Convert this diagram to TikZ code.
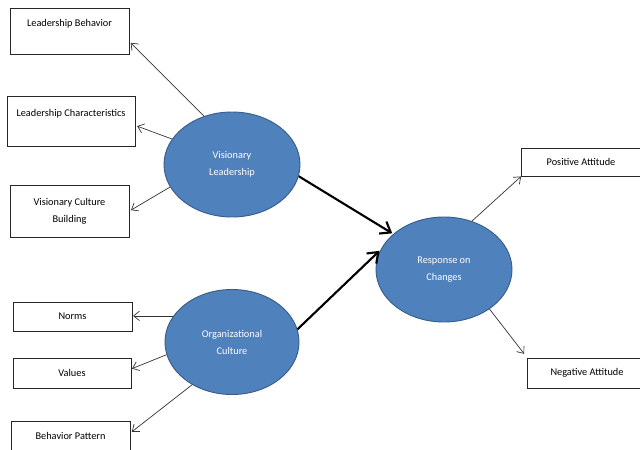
\documentclass[tikz,border=0pt]{standalone}
\usepackage{fontspec}
\setmainfont{Carlito}
\usetikzlibrary{arrows.meta, shapes.geometric}

\definecolor{ovalblue}{HTML}{4F81BD}
\definecolor{ovaledge}{HTML}{385D8A}

\begin{document}
\begin{tikzpicture}[
  x=0.03cm, y=-0.03cm,
  box/.style={draw=black!85, line width=0.8pt, minimum width=3.57cm, align=center, inner sep=0pt, font=\fontsize{8.8}{14.5}\selectfont},
  oval/.style={ellipse, draw=ovaledge, line width=0.8pt, fill=ovalblue, text=white, minimum width=4.08cm, minimum height=3.15cm, inner sep=0pt, align=center, font=\fontsize{8.8}{14.5}\selectfont},
  arrow/.style={-{Straight Barb[length=5pt, width=8pt]}, line width=0.6pt, black!80},
  bigarrow/.style={-{Straight Barb[length=8pt, width=12pt]}, line width=1.8pt}
]
  \useasboundingbox (0,0) rectangle (640,450);

  % Left side boxes
  \node[box, minimum height=1.38cm] (lbeh) at (69.5,31) {Leadership Behavior\\ \mbox{}};
  \node[box, minimum width=3.84cm, minimum height=1.5cm] (lchar) at (71,121) {Leadership Characteristics\\ \mbox{}};
  \node[box, minimum height=1.56cm] (vcb) at (69.5,211) {Visionary Culture\\Building};

  \node[box, minimum height=0.87cm] (norms) at (72.5,316.5) {Norms};
  \node[box, minimum width=3.54cm, minimum height=0.9cm] (values) at (72,373) {Values};
  \node[box, minimum height=0.9cm] (bpat) at (70.5,436) {Behavior Pattern};

  % Ovals
  \node[oval] (vl) at (232,164.5) {Visionary\\Leadership};
  \node[oval, minimum width=4.02cm] (oc) at (232,342) {Organizational\\Culture};
  \node[oval] (rc) at (444,269.5) {Response on\\Changes};

  % Right side boxes
  \node[box, minimum height=0.84cm] (posatt) at (581,162) {Positive Attitude};
  \node[box, minimum height=0.9cm] (negatt) at (587,373) {Negative Attitude};

  % Dimension arrows
  \draw[arrow, shorten >=1.5pt] (vl.120) -- (lbeh.-10);
  \draw[arrow, shorten >=1.5pt] (vl.157) -- (lchar.-4);
  \draw[arrow, shorten >=1.5pt] (vl.-160) -- (vcb.east);
  \draw[arrow, shorten >=0.5pt] (oc.156) -- (oc.156 -| norms.east);
  \draw[arrow, shorten >=0.5pt] (oc.-169) -- (values.4);
  \draw[arrow, shorten >=1.5pt] (oc.-133) -- (bpat.3);
  \draw[arrow] (rc.60) -- (posatt.south west);
  \draw[arrow, shorten >=4pt] (rc.-41) -- (negatt.north west);

  % Main effects
  \draw[bigarrow, shorten >=1pt] (vl.-10) -- (rc.145);
  \draw[bigarrow, shorten >=1pt] (oc.11) -- (rc.163);
\end{tikzpicture}
\end{document}
